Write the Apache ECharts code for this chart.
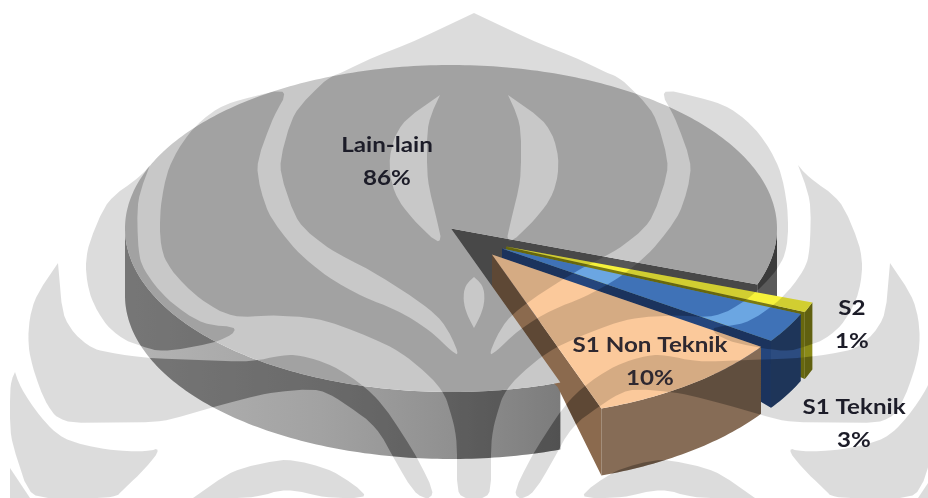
<!DOCTYPE html>
<html>
<head>
<meta charset="utf-8">
<style>html,body{margin:0;padding:0;background:#fff}#chart{width:928px;height:498px}</style>
<script src="https://cdn.jsdelivr.net/npm/echarts@6/dist/echarts.min.js"></script>
</head>
<body>
<div id="chart"></div>
<script>
// Education share, drawn back to front
const categories = ['Lain-lain', 'S2', 'S1 Teknik', 'S1 Non Teknik'];
const shareValues = [86, 1, 3, 10];

// Pie geometry
const pieCenter = [451, 228.5];
const pieRadius = [326, 163.5];
const pieDepth = 67;
const firstSliceStartDeg = 70.4;
const sliceShift = [[0, 0], [55, 18], [51, 20], [41, 26]];

const wallGray = {
  type: 'linear', x: 125, y: 0, x2: 560, y2: 0, global: true,
  colorStops: [
    { offset: 0, color: '#b4b4b4' },
    { offset: 0.45, color: '#a2a2a2' },
    { offset: 0.75, color: '#909090' },
    { offset: 1, color: '#7c7c7c' }
  ]
};
const sliceLook = [
  { top: '#c8c8c8', wall: wallGray, backWall: '#5a5a5a', cut: '#565656', topInk: 'rgba(0,0,0,0.19)', wallInk: 'rgba(0,0,0,0.34)', cutInk: 'rgba(0,0,0,0.16)' },
  { top: '#f6f23a', wall: '#8a8a18', backWall: '#8a8a18', cut: '#7a7a10', topInk: 'rgba(0,0,0,0.15)', wallInk: 'rgba(0,0,0,0.3)', cutInk: 'rgba(0,0,0,0.15)' },
  { top: '#6ba6e2', wall: '#2c4c80', backWall: '#2c4c80', cut: '#24457c', topInk: 'rgba(10,50,130,0.45)', wallInk: 'rgba(0,0,0,0.3)', cutInk: 'rgba(0,0,0,0.25)' },
  { top: '#fbc99b', wall: '#866c56', backWall: '#866c56', cut: '#8b6a4e', topInk: 'rgba(0,0,0,0.15)', wallInk: 'rgba(0,0,0,0.28)', cutInk: 'rgba(0,0,0,0.32)' }
];
const paperInk = 'rgba(0,0,0,0.137)';

// Label centres and text colour
const labelCenters = [[387, 162], [852, 325], [854, 424], [650, 362]];
const labelInk = ['#1c1c28', '#1c1c28', '#1c1c28', '#2e2830'];
const labelStretch = 1.15;

// Background emblem, left half; the right half is its reflection about emblemAxis
const emblemAxis = 474;
const flameOutline = [
  [474, 13], [417, 40], [367, 60], [341, 73], [327, 78], [293, 113], [278, 167], [297, 223],
  [330, 250], [370, 270], [413, 297], [443, 320], [460, 355], [453, 353], [430, 330], [397, 310],
  [363, 297], [327, 277], [295, 250], [267, 213], [255, 167], [273, 117], [290, 88], [250, 97],
  [217, 107], [188, 133], [168, 167], [160, 207], [160, 247], [170, 270], [200, 300], [233, 318],
  [270, 315], [317, 318], [347, 328], [393, 347], [420, 367], [443, 390], [450, 410], [457, 437],
  [457, 498], [474, 498]
];
const flameDrop = [[474, 328], [467, 315], [463, 300], [465, 285], [474, 277]];
const flameCrescent = [
  [440, 95], [427, 123], [427, 180], [437, 220], [443, 248], [413, 220], [393, 193], [388, 157],
  [400, 123], [440, 95]
];
const emblemSideLeaf = [
  [150, 165], [137, 200], [138, 250], [143, 270], [167, 300], [203, 325], [242, 327], [220, 342],
  [163, 352], [143, 347], [117, 337], [97, 313], [86, 283], [86, 250], [107, 200], [140, 177], [150, 165]
];
const emblemLowerLeaf = [
  [58, 263], [63, 320], [87, 347], [110, 353], [147, 358], [250, 362], [283, 355], [300, 355],
  [333, 365], [367, 388], [387, 410], [417, 457], [437, 498], [417, 498], [393, 457], [377, 427],
  [350, 407], [320, 388], [267, 393], [213, 407], [163, 422], [63, 423], [47, 407], [32, 367],
  [27, 337], [33, 300], [58, 263]
];
const emblemOuterLeaf = [
  [15, 372], [20, 387], [40, 417], [63, 440], [107, 450], [147, 452], [162, 447], [147, 467],
  [123, 490], [115, 498], [30, 498], [10, 437], [10, 383], [15, 372]
];
const emblemCornerLeaf = [[10, 468], [30, 498], [10, 498], [10, 468]];
const emblemArch = [
  [193, 498], [233, 470], [287, 458], [333, 470], [372, 498], [325, 498], [287, 488], [255, 498], [193, 498]
];

// Softens the corners of an open outline by cutting each one a few pixels back
function softened(points, cut, passes) {
  let pts = points;
  for (let n = 0; n < passes; n++) {
    const out = [pts[0]];
    for (let i = 1; i < pts.length - 1; i++) {
      const [px, py] = pts[i - 1], [x, y] = pts[i], [nx, ny] = pts[i + 1];
      const a = Math.min(cut, Math.hypot(x - px, y - py) * 0.3) / Math.hypot(x - px, y - py);
      const b = Math.min(cut, Math.hypot(nx - x, ny - y) * 0.3) / Math.hypot(nx - x, ny - y);
      out.push([x + (px - x) * a, y + (py - y) * a], [x + (nx - x) * b, y + (ny - y) * b]);
    }
    out.push(pts[pts.length - 1]);
    pts = out;
  }
  return pts;
}

// The flame carries two cut-outs, reached along the axis so one outline can hold them
const emblemFlame = softened(flameOutline, 9, 2)
  .concat(softened(flameDrop, 4, 2))
  .concat([[474, 95]])
  .concat(softened(flameCrescent, 9, 2))
  .concat([[474, 95]]);

const emblemHalves = [
  emblemFlame,
  softened(emblemSideLeaf, 9, 2),
  softened(emblemLowerLeaf, 9, 2),
  softened(emblemOuterLeaf, 9, 2),
  emblemCornerLeaf,
  softened(emblemArch, 9, 2)
];

const reflect = pts => pts.map(p => [2 * emblemAxis - p[0], p[1]]);
const emblemShapes = emblemHalves.concat(emblemHalves.map(reflect));

function emblemElements(ink) {
  return emblemShapes.map(points => ({
    type: 'polygon',
    shape: { points },
    style: { fill: ink },
    silent: true
  }));
}

// One shaded face: the filled polygon, then the emblem printed on it and clipped to it
function face(points, fill, ink) {
  return {
    type: 'group',
    children: [
      { type: 'polygon', shape: { points }, style: { fill } },
      {
        type: 'group',
        clipPath: { type: 'polygon', shape: { points } },
        children: emblemElements(ink)
      }
    ]
  };
}

function rimPoint(cx, cy, deg) {
  const a = deg * Math.PI / 180;
  return [cx + pieRadius[0] * Math.cos(a), cy + pieRadius[1] * Math.sin(a)];
}

function arc(cx, cy, from, to) {
  const pts = [];
  for (let d = from; d < to; d += 1) pts.push(rimPoint(cx, cy, d));
  pts.push(rimPoint(cx, cy, to));
  return pts;
}

function wallFrom(cx, cy, from, to) {
  const rim = arc(cx, cy, from, to);
  const lower = rim.map(p => [p[0], p[1] + pieDepth]).reverse();
  return rim.concat(lower);
}

const total = shareValues.reduce((a, b) => a + b, 0);

function sliceFrame(i, value) {
  let start = firstSliceStartDeg;
  for (let k = 0; k < i; k++) start += shareValues[k] / total * 360;
  return {
    start,
    end: start + value / total * 360,
    cx: pieCenter[0] + sliceShift[i][0],
    cy: pieCenter[1] + sliceShift[i][1],
    look: sliceLook[i]
  };
}

function topFace(f) {
  return face([[f.cx, f.cy]].concat(arc(f.cx, f.cy, f.start, f.end)), f.look.top, f.look.topInk);
}

function renderSlice(params, api) {
  const i = api.value(0);
  const f = sliceFrame(i, api.value(1));
  const { start, end, cx, cy, look } = f;
  const children = [];

  // Rim wall: only the part of the rim that faces the viewer
  if (start < 180) {
    children.push(face(wallFrom(cx, cy, start, Math.min(end, 180)), look.wall, look.wallInk));
  }
  if (end > 360) {
    children.push(face(wallFrom(cx, cy, Math.max(start, 360), end), look.backWall, look.wallInk));
  }
  // Cut wall along the closing radius, seen when it faces downward; its far edge runs
  // from the rim's foot towards the apex and ends under the large slice's top
  const endRim = rimPoint(cx, cy, end);
  if (Math.cos(end * Math.PI / 180) > 0) {
    const foot = [endRim[0], endRim[1] + pieDepth];
    const bend = [cx + (foot[0] - cx) * 0.6, cy + (foot[1] - cy) * 0.6];
    children.push(face([[cx, cy], endRim, foot, bend, [cx, cy + pieDepth]], look.cut, look.cutInk));
  }
  // Top surface; the large slice's top goes on last, over the others' walls
  if (i > 0) children.push(topFace(f));
  return { type: 'group', children };
}

function renderLargeTop(params, api) {
  return { type: 'group', children: [topFace(sliceFrame(api.value(0), api.value(1)))] };
}

function renderLabel(params, api) {
  const i = api.value(0);
  return {
    type: 'text',
    x: labelCenters[i][0],
    y: labelCenters[i][1],
    scaleX: labelStretch,
    style: {
      text: categories[i] + '\n' + api.value(1) + '%',
      font: 'bold 21px Lato',
      fill: labelInk[i],
      align: 'center',
      verticalAlign: 'middle',
      lineHeight: 33
    }
  };
}

const rows = shareValues.map((v, i) => [i, v]);
const layer = (data, renderItem) => ({
  type: 'custom',
  coordinateSystem: 'none',
  silent: true,
  clip: false,
  data,
  renderItem
});

const chart = echarts.init(document.getElementById('chart'), null, { renderer: 'canvas' });
chart.setOption({
  animation: false,
  backgroundColor: '#ffffff',
  series: [
    layer([[0]], () => ({ type: 'group', children: emblemElements(paperInk) })),
    layer(rows, renderSlice),
    layer(rows.slice(0, 1), renderLargeTop),
    layer(rows, renderLabel)
  ]
});
</script>
</body>
</html>
